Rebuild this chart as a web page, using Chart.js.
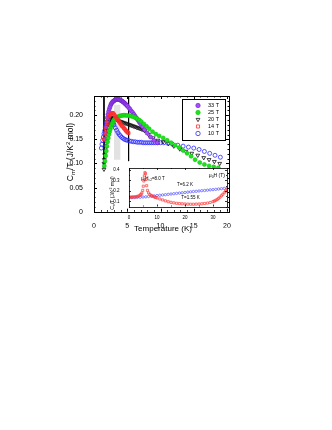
<!DOCTYPE html>
<html>
<head>
<meta charset="utf-8">
<script src="https://cdn.jsdelivr.net/npm/chart.js@4.4.1/dist/chart.umd.min.js"></script>
<style>
  html, body { margin: 0; padding: 0; background: #fff; }
  #wrap { position: relative; width: 332px; height: 430px; }
  #main { position: absolute; left: 0; top: 0; }
  #inset { position: absolute; left: 100px; top: 158px; }
</style>
</head>
<body>
<div id="wrap">
  <canvas id="main" width="332" height="430"></canvas>
  <canvas id="inset" width="132" height="62"></canvas>
</div>
<script>
var FONT = '"Liberation Sans", Arial, sans-serif';

// main plot: C/T vs temperature
var t33 = [1.6,1.7,1.8,1.9,2.0,2.1,2.2,2.3,2.4,2.5,2.6,2.7,2.8,2.9,3.0,3.1,3.2,3.3,3.4,3.5,3.6,3.7,3.8,3.9,4.0,4.1,4.2,4.3,4.4,4.5,4.6,4.7,4.8,4.9,5.0,5.2,5.4,5.6,5.8,6.0,6.2,6.4,6.6,6.8,7.0,7.3,7.6,8.0,8.5,9.0,9.5];
var c33 = [0.150,0.162,0.175,0.186,0.195,0.202,0.208,0.213,0.217,0.221,0.224,0.226,0.228,0.229,0.230,0.231,0.232,0.2325,0.233,0.233,0.233,0.233,0.2325,0.232,0.231,0.2305,0.2295,0.2285,0.2275,0.2265,0.225,0.224,0.2225,0.221,0.2195,0.216,0.213,0.209,0.206,0.202,0.198,0.194,0.190,0.186,0.182,0.176,0.170,0.163,0.155,0.148,0.143];

var t25 = [1.55,1.65,1.75,1.85,1.95,2.05,2.15,2.25,2.35,2.45,2.55,2.65,2.75,2.85,2.95,3.05,3.2,3.35,3.5,3.65,3.8,4.0,4.2,4.4,4.6,4.8,5.0,5.3,5.6,5.9,6.2,6.5,6.8,7.1,7.5,7.9,8.3,8.8,9.3,9.8,10.4,11.0,11.6,12.2,12.8,13.4,14.0,14.6,15.2,15.9,16.6,17.3,18.0,18.7];
var c25 = [0.095,0.105,0.116,0.126,0.136,0.145,0.153,0.160,0.166,0.171,0.176,0.180,0.183,0.186,0.189,0.191,0.193,0.195,0.196,0.197,0.198,0.199,0.1995,0.200,0.200,0.200,0.1995,0.199,0.198,0.197,0.195,0.193,0.190,0.187,0.182,0.177,0.172,0.166,0.161,0.157,0.153,0.148,0.143,0.138,0.133,0.127,0.121,0.115,0.108,0.102,0.098,0.095,0.093,0.091];

var t20 = [1.5,1.5,1.55,1.6,1.7,1.8,1.9,2.0,2.1,2.2,2.3,2.4,2.5,2.6,2.7,2.8,2.9,3.0,3.1,3.2,3.4,3.6,3.8,4.0,4.2,4.4,4.6,4.8,5.0,5.2,5.4,5.6,5.8,6.0,6.2,6.4,6.6,6.8,7.0,7.2,7.4,7.6,8.2,8.9,9.6,10.4,11.2,12.0,12.9,13.8,14.7,15.6,16.5,17.3,18.1,18.9];
var c20 = [0.088,0.100,0.108,0.118,0.130,0.142,0.152,0.161,0.168,0.175,0.180,0.184,0.188,0.191,0.193,0.194,0.195,0.195,0.194,0.193,0.191,0.189,0.188,0.187,0.186,0.185,0.184,0.183,0.182,0.181,0.180,0.179,0.178,0.177,0.176,0.175,0.174,0.173,0.172,0.171,0.170,0.168,0.160,0.153,0.148,0.145,0.141,0.136,0.130,0.125,0.121,0.117,0.112,0.108,0.104,0.100];

var t14 = [1.5,1.6,1.7,1.8,1.9,2.0,2.1,2.2,2.3,2.4,2.5,2.6,2.7,2.8,2.9,3.0,3.1,3.2,3.3,3.4,3.5,3.6,3.7,3.8,3.9,4.0,4.1,4.2,4.3,4.4,4.5,4.6,4.7,4.8,4.9,5.0,5.1,5.2];
var c14 = [0.150,0.157,0.164,0.171,0.178,0.184,0.189,0.194,0.198,0.201,0.203,0.204,0.205,0.205,0.204,0.202,0.200,0.198,0.196,0.194,0.192,0.190,0.188,0.186,0.184,0.182,0.180,0.178,0.177,0.175,0.173,0.172,0.170,0.168,0.167,0.165,0.164,0.163];

var t10 = [1.1,1.2,1.3,1.4,1.5,1.6,1.7,1.8,1.9,2.0,2.1,2.2,2.3,2.4,2.5,2.6,2.7,2.8,2.9,3.0,3.2,3.4,3.6,3.8,4.0,4.2,4.4,4.6,4.8,5.0,5.3,5.6,5.9,6.2,6.5,6.8,7.1,7.4,7.7,8.0,8.3,8.6,8.9,9.2,9.6,10.0,10.5,11.1,11.8,12.6,13.4,14.2,15.0,15.8,16.6,17.4,18.2,19.0];
var c10 = [0.132,0.140,0.148,0.155,0.162,0.168,0.174,0.179,0.183,0.186,0.189,0.191,0.192,0.193,0.193,0.191,0.189,0.186,0.183,0.180,0.174,0.169,0.164,0.160,0.157,0.154,0.152,0.150,0.149,0.148,0.147,0.146,0.145,0.145,0.144,0.144,0.144,0.143,0.143,0.143,0.143,0.143,0.143,0.143,0.143,0.143,0.143,0.142,0.140,0.138,0.136,0.134,0.132,0.129,0.125,0.121,0.117,0.113];

// guide lines and shaded band
var lineLx = [1.5, 1.5], lineLy = [0.24, 0.09];
var lineRx = [5.2, 5.2], lineRy = [0.24, 0.105];
var bandX = [3.0, 4.0], bandTop = [0.222, 0.222], bandBottom = 0.108;

var xTickValues = [0, 5, 10, 15, 20];
var xTickLabels = ['0', '5', '10', '15', '20'];
var yTickValues = [0, 0.05, 0.10, 0.15, 0.20];
var yTickLabels = ['0', '0.05', '0.10', '0.15', '0.20'];
var legendOrder = ['33 T', '25 T', '20 T', '14 T', '10 T'];

// inset: C/T vs field
var hRed = [0,0.5,1,1.5,2,2.5,3,3.5,4,4.3,4.6,4.9,5.1,5.3,5.5,5.7,5.9,6.1,6.3,6.6,7,7.5,8,8.5,9,9.5,10,11,12,13,14,15,16,17,18,19,20,21,22,23,24,25,26,27,28,29,30,30.5,31,31.5,32,32.5,33,33.5,34,34.5,35];
var cRed = [0.140,0.140,0.141,0.141,0.142,0.143,0.147,0.152,0.160,0.167,0.180,0.205,0.245,0.295,0.345,0.375,0.365,0.310,0.250,0.205,0.180,0.165,0.155,0.148,0.142,0.137,0.132,0.122,0.113,0.104,0.096,0.090,0.085,0.081,0.078,0.076,0.074,0.073,0.072,0.072,0.073,0.074,0.076,0.079,0.083,0.089,0.097,0.103,0.110,0.118,0.128,0.140,0.153,0.167,0.182,0.197,0.210];
var hBlue = [0,1,2,3,4,5,6,7,8,9,10,11,12,13,14,15,16,17,18,19,20,21,22,23,24,25,26,27,28,29,30,31,32,33,34,35];
var cBlue = [0.135,0.136,0.137,0.138,0.139,0.141,0.143,0.146,0.149,0.152,0.155,0.158,0.161,0.164,0.167,0.170,0.173,0.176,0.179,0.182,0.185,0.188,0.191,0.194,0.196,0.199,0.202,0.204,0.207,0.210,0.212,0.215,0.218,0.221,0.224,0.226];
var insetXTicks = [0, 10, 20, 30];
var insetYTicks = [0.1, 0.2, 0.3, 0.4];

function pts(xs, ys) {
  return xs.map(function(x, i){ return {x: x, y: ys[i]}; });
}

function richText(ctx, parts, x, y, align) {
  var total = 0;
  parts.forEach(function(p){ ctx.font = p.s + 'px ' + FONT; total += ctx.measureText(p.t).width; });
  var cx = align === 'center' ? x - total / 2 : (align === 'right' ? x - total : x);
  ctx.textAlign = 'left';
  ctx.textBaseline = 'alphabetic';
  parts.forEach(function(p){
    ctx.font = p.s + 'px ' + FONT;
    ctx.fillText(p.t, cx, y + (p.dy || 0));
    cx += ctx.measureText(p.t).width;
  });
}

function drawTicks(ctx, a, xs, ys, xMin, xMax, xStep, xMajor, yMin, yMax, yStep, yMajor, big, small) {
  ctx.beginPath();
  for (var v = xMin; v <= xMax + 1e-9; v += xStep) {
    var px = Math.round(xs.getPixelForValue(v)) + 0.5;
    var l = Math.abs(v / xMajor - Math.round(v / xMajor)) < 1e-6 ? big : small;
    ctx.moveTo(px, a.bottom); ctx.lineTo(px, a.bottom - l);
    ctx.moveTo(px, a.top); ctx.lineTo(px, a.top + l);
  }
  for (var w = yMin; w <= yMax + 1e-9; w += yStep) {
    var py = Math.round(ys.getPixelForValue(w)) + 0.5;
    var m = Math.abs(w / yMajor - Math.round(w / yMajor)) < 1e-6 ? big : small;
    ctx.moveTo(a.left, py); ctx.lineTo(a.left + m, py);
    ctx.moveTo(a.right, py); ctx.lineTo(a.right - m, py);
  }
  ctx.stroke();
}

var mainDecor = {
  id: 'mainDecor',
  afterDraw: function(chart) {
    var ctx = chart.ctx, a = chart.chartArea;
    ctx.save();
    ctx.strokeStyle = '#000';
    ctx.lineWidth = 1;
    ctx.strokeRect(Math.round(a.left) + 0.5, Math.round(a.top) + 0.5, Math.round(a.right - a.left), Math.round(a.bottom - a.top));
    drawTicks(ctx, a, chart.scales.x, chart.scales.y, 0, 20, 1, 5, 0, 0.24, 0.01, 0.05, 3, 1.5);

    // legend box
    ctx.fillStyle = '#fff';
    ctx.fillRect(182, 99, 43, 41);
    ctx.strokeRect(182.5, 99.5, 43, 41);
    legendOrder.forEach(function(lab, i){
      var ds = chart.data.datasets.filter(function(d){ return d.label === lab; })[0];
      var y = 105.5 + i * 7;
      ctx.fillStyle = ds.backgroundColor;
      ctx.strokeStyle = ds.borderColor;
      ctx.lineWidth = ds.borderWidth;
      Chart.helpers.drawPoint(ctx, {pointStyle: ds.pointStyle, radius: 2.2, rotation: ds.pointRotation || 0, borderWidth: ds.borderWidth}, 198, y);
      ctx.fillStyle = '#000';
      ctx.font = '5.5px ' + FONT;
      ctx.textAlign = 'left';
      ctx.textBaseline = 'middle';
      ctx.fillText(lab, 208, y);
    });

    // axis titles
    ctx.fillStyle = '#000';
    richText(ctx, [{t: 'Temperature (K)', s: 8}], 163, 231, 'center');
    ctx.save();
    ctx.translate(73, 152);
    ctx.rotate(-Math.PI / 2);
    richText(ctx, [
      {t: 'C', s: 8.5}, {t: 'm', s: 6, dy: 2}, {t: '/T (J/K', s: 8.5},
      {t: '2', s: 6, dy: -3.5}, {t: ' mol)', s: 8.5}
    ], 0, 0, 'center');
    ctx.restore();
    ctx.restore();
  }
};

new Chart(document.getElementById('main'), {
  type: 'scatter',
  data: {
    datasets: [
      {label: '14 T', data: pts(t14, c14), pointStyle: 'rect', pointRadius: 2, backgroundColor: 'rgba(255,255,255,0)', borderColor: '#ff2b2b', borderWidth: 0.8},
      {label: '25 T', data: pts(t25, c25), pointStyle: 'circle', pointRadius: 2, backgroundColor: '#19e619', borderColor: '#10c010', borderWidth: 0.6},
      {label: '33 T', data: pts(t33, c33), pointStyle: 'circle', pointRadius: 2, backgroundColor: '#a64dff', borderColor: '#6a1fc0', borderWidth: 0.6},
      {label: '20 T', data: pts(t20, c20), pointStyle: 'triangle', pointRotation: 180, pointRadius: 2.2, backgroundColor: 'rgba(255,255,255,0)', borderColor: '#111', borderWidth: 0.8},
      {label: '10 T', data: pts(t10, c10), pointStyle: 'circle', pointRadius: 2, backgroundColor: 'rgba(255,255,255,0)', borderColor: '#2b2bff', borderWidth: 0.8},
      {label: 'guideL', type: 'line', data: pts(lineLx, lineLy), borderColor: '#000', borderWidth: 1, pointRadius: 0, fill: false},
      {label: 'guideR', type: 'line', data: pts(lineRx, lineRy), borderColor: '#000', borderWidth: 1, pointRadius: 0, fill: false},
      {label: 'band', type: 'line', data: pts(bandX, bandTop), borderWidth: 0, pointRadius: 0, backgroundColor: '#e2e2e2', fill: {value: bandBottom}}
    ]
  },
  options: {
    responsive: false,
    animation: false,
    devicePixelRatio: 1,
    layout: {padding: {left: 58, right: 103, top: 96, bottom: 202.3}},
    plugins: {legend: {display: false}, tooltip: {enabled: false}},
    scales: {
      x: {
        type: 'linear', min: 0, max: 20.3,
        grid: {display: false}, border: {display: false},
        afterFit: function(s){ s.height = 16; },
        afterBuildTicks: function(s){ s.ticks = xTickValues.map(function(v){ return {value: v}; }); },
        ticks: {font: {family: FONT, size: 7}, color: '#000', padding: 2, maxRotation: 0, autoSkip: false,
          callback: function(v, i){ return xTickLabels[i]; }}
      },
      y: {
        type: 'linear', min: 0, max: 0.24,
        grid: {display: false}, border: {display: false},
        afterFit: function(s){ s.width = 36; },
        afterBuildTicks: function(s){ s.ticks = yTickValues.map(function(v){ return {value: v}; }); },
        ticks: {font: {family: FONT, size: 7}, color: '#000', padding: 3, autoSkip: false,
          callback: function(v, i){ return yTickLabels[i]; }}
      }
    }
  },
  plugins: [mainDecor]
});

var insetDecor = {
  id: 'insetDecor',
  beforeDraw: function(chart) {
    var ctx = chart.ctx, a = chart.chartArea;
    ctx.save();
    ctx.fillStyle = '#fff';
    ctx.fillRect(a.left, a.top, a.right - a.left, a.bottom - a.top);
    ctx.restore();
  },
  afterDraw: function(chart) {
    var ctx = chart.ctx, a = chart.chartArea;
    ctx.save();
    ctx.strokeStyle = '#000';
    ctx.lineWidth = 0.8;
    ctx.strokeRect(Math.round(a.left) + 0.5, Math.round(a.top) + 0.5, Math.round(a.right - a.left), Math.round(a.bottom - a.top));
    drawTicks(ctx, a, chart.scales.x, chart.scales.y, 0, 35, 5, 10, 0.05, 0.42, 0.05, 0.1, 2, 1);
    ctx.fillStyle = '#000';
    richText(ctx, [{t: '\u03bc', s: 4.5}, {t: '0', s: 3.2, dy: 1}, {t: 'H', s: 4.5}, {t: 'c2', s: 3.2, dy: 1}, {t: '=8.0 T', s: 4.5}], 41, 21.5, 'left');
    richText(ctx, [{t: 'T=6.2 K', s: 4.5}], 85, 27.5, 'center');
    richText(ctx, [{t: 'T=1.55 K', s: 4.5}], 90.5, 40.5, 'center');
    richText(ctx, [{t: '\u03bc', s: 5}, {t: '0', s: 3.5, dy: 1}, {t: 'H (T)', s: 5}], 125, 18.5, 'right');
    ctx.save();
    ctx.translate(14, 35);
    ctx.rotate(-Math.PI / 2);
    richText(ctx, [{t: 'C', s: 5}, {t: 'e', s: 3.5, dy: 1.2}, {t: '/T (J/K', s: 5}, {t: '2', s: 3.5, dy: -2}, {t: ' mol)', s: 5}], 0, 0, 'center');
    ctx.restore();
    ctx.restore();
  }
};

new Chart(document.getElementById('inset'), {
  type: 'scatter',
  data: {
    datasets: [
      {label: 'T=1.55 K', data: pts(hRed, cRed), pointStyle: 'rect', pointRadius: 1.5, backgroundColor: 'rgba(255,255,255,0)', borderColor: '#ff3838', borderWidth: 0.7},
      {label: 'T=6.2 K', data: pts(hBlue, cBlue), pointStyle: 'circle', pointRadius: 1.2, backgroundColor: 'rgba(255,255,255,0)', borderColor: '#3a3aff', borderWidth: 0.6}
    ]
  },
  options: {
    responsive: false,
    animation: false,
    devicePixelRatio: 1,
    layout: {padding: {left: 0, right: 5, top: 10, bottom: 0}},
    plugins: {legend: {display: false}, tooltip: {enabled: false}},
    scales: {
      x: {
        type: 'linear', min: 0, max: 35,
        grid: {display: false}, border: {display: false},
        afterFit: function(s){ s.height = 13.5; },
        afterBuildTicks: function(s){ s.ticks = insetXTicks.map(function(v){ return {value: v}; }); },
        ticks: {font: {family: FONT, size: 4.5}, color: '#000', padding: 1, maxRotation: 0, autoSkip: false}
      },
      y: {
        type: 'linear', min: 0.05, max: 0.42,
        grid: {display: false}, border: {display: false},
        afterFit: function(s){ s.width = 29; },
        afterBuildTicks: function(s){ s.ticks = insetYTicks.map(function(v){ return {value: v}; }); },
        ticks: {font: {family: FONT, size: 4.5}, color: '#000', padding: 1.5, autoSkip: false,
          callback: function(v){ return v.toFixed(1); }}
      }
    }
  },
  plugins: [insetDecor]
});
</script>
</body>
</html>
